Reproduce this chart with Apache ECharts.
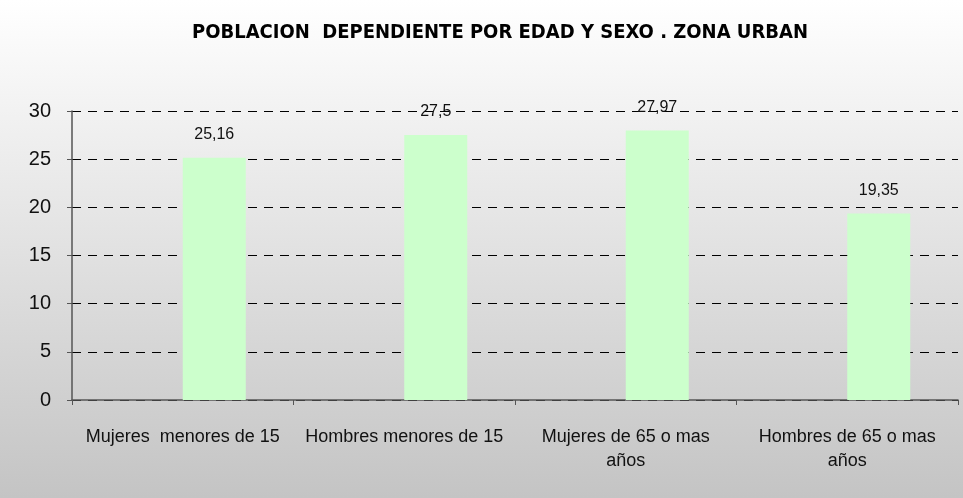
<!DOCTYPE html>
<html>
<head>
<meta charset="utf-8">
<script src="https://cdn.jsdelivr.net/npm/echarts@6/dist/echarts.min.js"></script>
<style>
  html, body { margin: 0; padding: 0; }
  #main { width: 963px; height: 498px; }
</style>
</head>
<body>
<div id="main"></div>
<script>
const categories = [
  "Mujeres  menores de 15",
  "Hombres menores de 15",
  "Mujeres de 65 o mas\naños",
  "Hombres de 65 o mas\naños",
];
const values = [25.16, 27.5, 27.97, 19.35];
// empty series that holds the left half of each slot, like the original
const spacer = [null, null, null, null];
const yTicks = [0, 5, 10, 15, 20, 25, 30];

const chart = echarts.init(document.getElementById("main"));

const font = "Liberation Sans, Arial, sans-serif";

const options = {
  backgroundColor: {
    type: "linear",
    x: 0, y: 0, x2: 0, y2: 1,
    colorStops: [
      { offset: 0, color: "#ffffff" },
      { offset: 1, color: "#c4c4c4" },
    ],
  },
  title: {
    text: "POBLACION  DEPENDIENTE POR EDAD Y SEXO . ZONA URBAN",
    left: 495,
    textAlign: "center",
    top: 18,
    textStyle: {
      fontFamily: "DejaVu Sans Condensed, Liberation Sans Narrow, sans-serif",
      fontWeight: "bold",
      fontSize: 20,
      color: "#000",
    },
  },
  grid: { left: 72, right: 5, top: 111, bottom: 98 },
  xAxis: {
    type: "category",
    data: categories,
    axisLine: { lineStyle: { color: "#555", width: 1.5 } },
    axisTick: { show: true, length: 5, lineStyle: { color: "#555" } },
    axisLabel: {
      interval: 0,
      margin: 25,
      fontFamily: font,
      fontSize: 18,
      color: "#111",
      lineHeight: 24,
    },
  },
  yAxis: {
    type: "value",
    min: yTicks[0],
    max: yTicks[yTicks.length - 1],
    interval: 5,
    axisLine: { show: true, lineStyle: { color: "#555", width: 1.5 } },
    axisTick: { show: true, length: 5, lineStyle: { color: "#555" } },
    axisLabel: {
      margin: 21,
      fontFamily: font,
      fontSize: 20,
      color: "#111",
    },
    splitLine: {
      show: true,
      lineStyle: { color: "#000", type: [9, 7], width: 1 },
    },
  },
  series: [
    {
      name: "spacer",
      type: "bar",
      data: spacer,
      barWidth: 63,
      barGap: "0%",
      silent: true,
    },
    {
      name: "Poblacion",
      type: "bar",
      data: values,
      barWidth: 63,
      itemStyle: { color: "#ccffcc" },
      label: {
        show: true,
        position: "top",
        distance: 15,
        fontFamily: font,
        fontSize: 16,
        color: "#111",
        formatter: (p) => String(p.value).replace(".", ","),
      },
    },
  ],
};

chart.setOption(options);
</script>
</body>
</html>
